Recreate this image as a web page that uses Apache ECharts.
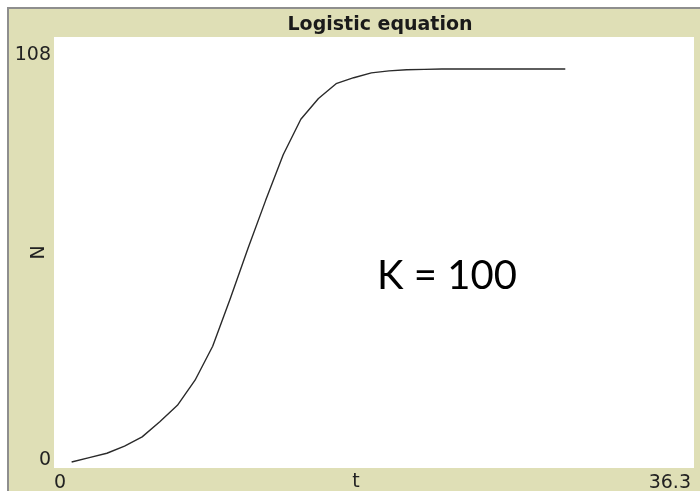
<!DOCTYPE html>
<html>
<head>
<meta charset="utf-8">
<script src="https://cdn.jsdelivr.net/npm/echarts@6/dist/echarts.min.js"></script>
<style>
  html, body { margin: 0; padding: 0; background: #fff; }
  #chart { width: 700px; height: 491px; }
</style>
</head>
<body>
<div id="chart"></div>
<script>
// time steps and population
const tValues = [1, 2, 3, 4, 5, 6, 7, 8, 9, 10, 11, 12, 13, 14, 15,
                 16, 17, 18, 19, 20, 21, 22, 23, 24, 25, 26, 27, 28, 29];
const nValues = [1.5, 2.6, 3.7, 5.5, 7.8, 11.6, 15.7, 22, 30.5, 42.5, 55, 67, 78.5, 87.4, 92.6,
                 96.3, 97.8, 99, 99.5, 99.8, 99.9, 100, 100, 100, 100, 100, 100, 100, 100];
const xTickLabels = ['0', '36.3'];
const yTickLabels = ['0', '108'];
const xMax = 36.3;
const yMax = 108;

const chart = echarts.init(document.getElementById('chart'));
const labelFont = 'DejaVu Sans';

const option = {
    animation: false,
    backgroundColor: '#fff',
    title: {
        text: 'Logistic equation',
        left: 375,
        top: 11,
        textAlign: 'center',
        textStyle: {
            fontFamily: labelFont,
            fontWeight: 'bold',
            fontSize: 19,
            color: '#1a1a1a',
        },
    },
    graphic: [
        {
            type: 'rect',
            z: -100,
            shape: { x: 8, y: 8, width: 800, height: 600 },
            style: { fill: '#dfdfb6', stroke: '#8e8e8e', lineWidth: 2 },
        },
        {
            type: 'text',
            z: 100,
            x: 447,
            y: 276,
            style: {
                text: 'K = 100',
                font: '40px Lato',
                fill: '#000',
                align: 'center',
                verticalAlign: 'middle',
            },
        },
    ],
    grid: {
        left: 54,
        right: 6,
        top: 37,
        bottom: 23,
        outerBoundsMode: 'none',
        containLabel: false,
        show: true,
        backgroundColor: '#fff',
        borderWidth: 0,
    },
    xAxis: {
        type: 'value',
        min: 0,
        max: xMax,
        interval: xMax,
        name: 't',
        nameLocation: 'middle',
        nameGap: 5,
        nameMoveOverlap: false,
        nameTextStyle: {
            fontFamily: labelFont,
            fontSize: 19,
            color: '#222',
            padding: [0, 36, 0, 0],
        },
        axisLine: { show: false },
        axisTick: { show: false },
        splitLine: { show: false },
        axisLabel: {
            margin: 6,
            fontFamily: labelFont,
            fontSize: 19,
            color: '#222',
            alignMinLabel: 'left',
            alignMaxLabel: 'right',
            formatter: (v) => (v === 0 ? '{lo|' + xTickLabels[0] + '}' : '{hi|' + xTickLabels[1] + '}'),
            rich: {
                lo: { fontFamily: labelFont, fontSize: 19, color: '#222' },
                hi: { fontFamily: labelFont, fontSize: 19, color: '#222', padding: [0, 3, 0, 0] },
            },
        },
    },
    yAxis: {
        type: 'value',
        min: 0,
        max: yMax,
        interval: yMax,
        name: 'N',
        nameLocation: 'middle',
        nameRotate: 90,
        nameGap: 5,
        nameMoveOverlap: false,
        nameTextStyle: {
            fontFamily: labelFont,
            fontSize: 19,
            color: '#222',
        },
        axisLine: { show: false },
        axisTick: { show: false },
        splitLine: { show: false },
        axisLabel: {
            margin: 3,
            fontFamily: labelFont,
            fontSize: 19,
            color: '#222',
            formatter: (v) => (v === 0 ? '{lo|' + yTickLabels[0] + '}' : '{hi|' + yTickLabels[1] + '}'),
            rich: {
                lo: { fontFamily: labelFont, fontSize: 19, color: '#222', padding: [0, 0, 16, 0] },
                hi: { fontFamily: labelFont, fontSize: 19, color: '#222', padding: [36, 0, 0, 0] },
            },
        },
    },
    series: [
        {
            type: 'line',
            data: tValues.map((t, i) => [t, nValues[i]]),
            symbol: 'none',
            smooth: false,
            lineStyle: { color: '#2a2a2a', width: 1.4 },
        },
    ],
};

chart.setOption(option);
</script>
</body>
</html>
